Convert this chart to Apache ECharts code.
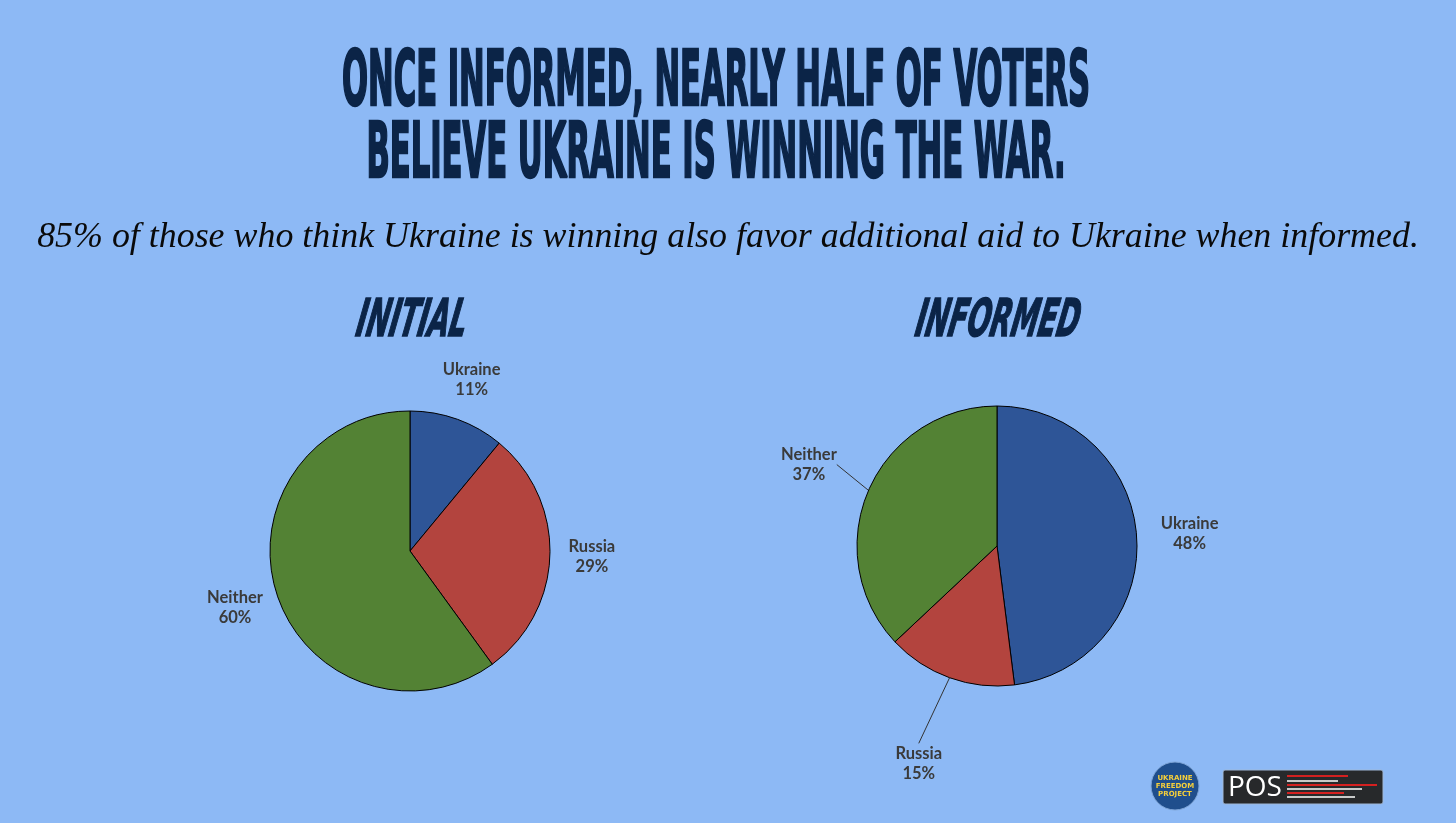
<!DOCTYPE html>
<html>
<head>
<meta charset="utf-8">
<script src="https://cdn.jsdelivr.net/npm/echarts@6/dist/echarts.min.js"></script>
<style>
html,body{margin:0;padding:0;background:#8DB9F5;}
#chart{width:1456px;height:823px;}
</style>
</head>
<body>
<div id="chart"></div>
<script>
// ---- data ----
const categories = ['Ukraine', 'Russia', 'Neither'];
const initialValues = [11, 29, 60];
const informedValues = [48, 15, 37];
const titleLines = ['ONCE INFORMED, NEARLY HALF OF VOTERS', 'BELIEVE UKRAINE IS WINNING THE WAR.'];
const subtitle = '85% of those who think Ukraine is winning also favor additional aid to Ukraine when informed.';
const chartTitles = ['INITIAL', 'INFORMED'];

// ---- style / layout ----
const colors = { Ukraine: '#2E5597', Russia: '#B3443E', Neither: '#538234' };
const navy = '#0B2447';
const pies = [
  { center: [410, 551], r: 140, labelR: [182, 182, 184], lines: [false, false, false] },
  { center: [997, 546], r: 140, labelR: [193, 231, 205], lines: [false, true, true] }
];

function measure(text, font) {
  const c = document.createElement('canvas').getContext('2d');
  c.font = font;
  return c.measureText(text).width;
}
const titleFont = 'bold 76px "Liberation Sans Narrow", "DejaVu Sans Condensed", "DejaVu Sans", sans-serif';
const tScale = 748 / measure(titleLines[0], titleFont);
const subFontBase = 'italic 30px "Liberation Serif", "DejaVu Serif", serif';
const subSize = 30 * 1383 / measure(subtitle, subFontBase);
const ctFont = 'italic bold 52px "Liberation Sans Narrow", "DejaVu Sans Condensed", sans-serif';
const ctScale = 110 / measure(chartTitles[0], ctFont);

function makeData(vals, pieIdx) {
  return categories.map((c, i) => ({
    name: c, value: vals[i],
    itemStyle: { color: colors[c] },
    labelLine: { show: pies[pieIdx].lines[i] }
  }));
}

function layoutFor(pieIdx, vals) {
  return function (params) {
    const i = params.dataIndex;
    const total = vals.reduce((a, b) => a + b, 0);
    let before = 0;
    for (let k = 0; k < i; k++) before += vals[k];
    const mid = (before + vals[i] / 2) / total * Math.PI * 2;
    const p = pies[pieIdx];
    const R = p.labelR[i];
    return {
      x: p.center[0] + R * Math.sin(mid),
      y: p.center[1] - R * Math.cos(mid),
      align: 'center',
      verticalAlign: 'middle'
    };
  };
}

const labelStyle = {
  show: true,
  position: 'outside',
  formatter: '{b}\n{c}%',
  fontFamily: 'Lato, "Open Sans", sans-serif',
  fontWeight: 'bold',
  fontSize: 16.5,
  lineHeight: 20,
  color: '#3A3A3A'
};

function pieSeries(vals, idx) {
  return {
    type: 'pie',
    center: pies[idx].center,
    radius: pies[idx].r,
    startAngle: 90,
    clockwise: true,
    animation: false,
    silent: true,
    itemStyle: { borderColor: '#000', borderWidth: 1 },
    label: labelStyle,
    labelLine: { show: false, length: 25, length2: 0, lineStyle: { color: '#333', width: 1 } },
    labelLayout: layoutFor(idx, vals),
    data: makeData(vals, idx)
  };
}

const chart = echarts.init(document.getElementById('chart'));
chart.setOption({
  backgroundColor: '#8DB9F5',
  graphic: [
    { type: 'text', x: 716, y: 85, scaleX: tScale, style: { text: titleLines[0], font: titleFont, fill: navy, stroke: navy, lineWidth: 2.5, align: 'center', verticalAlign: 'middle' } },
    { type: 'text', x: 716, y: 157, scaleX: tScale, style: { text: titleLines[1], font: titleFont, fill: navy, stroke: navy, lineWidth: 2.5, align: 'center', verticalAlign: 'middle' } },
    { type: 'text', x: 728, y: 238, style: { text: subtitle, font: 'italic ' + subSize.toFixed(1) + 'px "Liberation Serif", "DejaVu Serif", serif', fill: '#0A0A0A', align: 'center', verticalAlign: 'middle' } },
    { type: 'text', x: 412, y: 322, scaleX: ctScale, skewX: -0.18, style: { text: chartTitles[0], font: ctFont, fill: navy, stroke: navy, lineWidth: 1.5, align: 'center', verticalAlign: 'middle' } },
    { type: 'text', x: 998, y: 322, scaleX: ctScale, skewX: -0.18, style: { text: chartTitles[1], font: ctFont, fill: navy, stroke: navy, lineWidth: 1.5, align: 'center', verticalAlign: 'middle' } },
    // Ukraine Freedom Project logo
    { type: 'circle', shape: { cx: 1175, cy: 786, r: 24 }, style: { fill: '#1F4E8C', stroke: '#7FA6D8', lineWidth: 1 } },
    { type: 'text', x: 1175, y: 786, style: { text: 'UKRAINE\nFREEDOM\nPROJECT', font: 'bold 7px "DejaVu Sans", sans-serif', lineHeight: 8, fill: '#F5CF3A', align: 'center', verticalAlign: 'middle' } },
    // POS logo
    { type: 'rect', shape: { x: 1223, y: 770, width: 160, height: 34, r: 2 }, style: { fill: '#27292B', stroke: '#9FB8D8', lineWidth: 1 } },
    { type: 'text', x: 1228, y: 788, style: { text: 'POS', font: '28px "Open Sans", "DejaVu Sans", sans-serif', fill: '#fff', verticalAlign: 'middle' } },
    { type: 'line', shape: { x1: 1287, y1: 776, x2: 1348, y2: 776 }, style: { stroke: '#D42020', lineWidth: 2 } },
    { type: 'line', shape: { x1: 1287, y1: 781, x2: 1338, y2: 781 }, style: { stroke: '#fff', lineWidth: 1.5 } },
    { type: 'line', shape: { x1: 1287, y1: 785, x2: 1377, y2: 785 }, style: { stroke: '#D42020', lineWidth: 2 } },
    { type: 'line', shape: { x1: 1287, y1: 789, x2: 1362, y2: 789 }, style: { stroke: '#fff', lineWidth: 1.5 } },
    { type: 'line', shape: { x1: 1287, y1: 793, x2: 1344, y2: 793 }, style: { stroke: '#D42020', lineWidth: 2 } },
    { type: 'line', shape: { x1: 1287, y1: 797, x2: 1355, y2: 797 }, style: { stroke: '#fff', lineWidth: 1.5 } }
  ],
  series: [pieSeries(initialValues, 0), pieSeries(informedValues, 1)]
});
</script>
</body>
</html>
